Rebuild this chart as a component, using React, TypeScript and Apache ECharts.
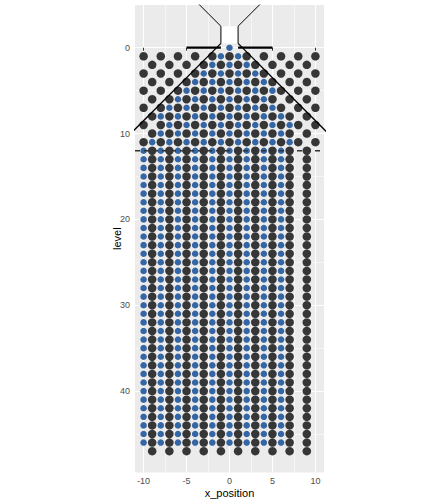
import React, { useEffect, useRef } from "react";
import * as echarts from "echarts";

// ---- axes ----
const xTicks = [-10, -5, 0, 5, 10];
const xMinorBreaks = [-7.5, -2.5, 2.5, 7.5];
const yTicks = [0, 10, 20, 30, 40];
const yMinorBreaks = [5, 15, 25, 35, 45];
const xLimits = [-11, 11];
const yLimits = [-4.975, 49.475];

// ---- pegs of the board (levels 1..11, staggered rows) ----
const boardLevels = [1, 2, 3, 4, 5, 6, 7, 8, 9, 10, 11];
const pegXOddLevels = [-10, -8, -6, -4, -2, 0, 2, 4, 6, 8, 10];
const pegXEvenLevels = [-9, -7, -5, -3, -1, 1, 3, 5, 7, 9];

// ---- bin walls (pegs stacked in columns) ----
const wallX = [-9, -7, -5, -3, -1, 1, 3, 5, 7, 9];
const wallLevels = [
  12, 13, 14, 15, 16, 17, 18, 19, 20, 21, 22, 23, 24, 25, 26, 27, 28, 29,
  30, 31, 32, 33, 34, 35, 36, 37, 38, 39, 40, 41, 42, 43, 44, 45, 46, 47,
];

// ---- balls: positions visited on the board (index = level 0..11) ----
const ballRows: number[][] = [
  [0],
  [-1, 1],
  [-2, 0, 2],
  [-3, -1, 1, 3],
  [-4, -2, 0, 2, 4],
  [-5, -3, -1, 1, 3, 5],
  [-6, -4, -2, 0, 2, 4],
  [-7, -5, -3, -1, 1, 3, 5],
  [-8, -6, -4, -2, 0, 2, 4, 6],
  [-7, -5, -3, -1, 1, 3, 5, 7],
  [-8, -6, -4, -2, 0, 2, 4, 6],
  [-9, -7, -5, -3, -1, 1, 3, 5, 7],
];
// ---- balls in the bins ----
const binX = [-10, -8, -6, -4, -2, 0, 2, 4, 6];
const binLevels = [
  12, 13, 14, 15, 16, 17, 18, 19, 20, 21, 22, 23, 24, 25, 26, 27, 28, 29,
  30, 31, 32, 33, 34, 35, 36, 37, 38, 39, 40, 41, 42, 43, 44, 45, 46,
];

// ---- board outline ----
const funnelLeft = [[-4, -5.5], [-1, -2.5], [-1, -0.5]];
const funnelRight = [[4, -5.5], [1, -2.5], [1, -0.5]];
const funnelMouth = [[-1, -2.5], [1, -0.5]];
const slopeLeft = [[-1, -0.5], [-12, 10.5]];
const slopeRight = [[1, -0.5], [12, 10.5]];
const ledgeLeft = [[-5, 0], [-1, 0]];
const ledgeRight = [[1, 0], [5, 0]];
const binTopLine = [[-11, 12], [11, 12]];

const pegs: number[][] = [];
boardLevels.forEach((lv) => {
  (lv % 2 === 1 ? pegXOddLevels : pegXEvenLevels).forEach((x) => pegs.push([x, lv]));
});
wallLevels.forEach((lv) => wallX.forEach((x) => pegs.push([x, lv])));

const balls: number[][] = [];
ballRows.forEach((row, lv) => row.forEach((x) => balls.push([x, lv])));
binLevels.forEach((lv) => binX.forEach((x) => balls.push([x, lv])));

const FONT = "'Liberation Sans', Arial, Helvetica, sans-serif";

function lineSeries(data: number[][], width: number, color = "#000", type: any = "solid") {
  return {
    type: "line",
    data,
    symbol: "none",
    showSymbol: false,
    silent: true,
    clip: true,
    lineStyle: { color, width, type },
    z: 5,
  };
}

const option: any = {
  animation: false,
  backgroundColor: "#ffffff",
  grid: {
    left: 135,
    right: 108,
    top: 5,
    bottom: 31.6,
    show: true,
    backgroundColor: "#EBEBEB",
    borderWidth: 0,
    containLabel: false,
    outerBoundsMode: "none",
  },
  xAxis: [
    {
      type: "value",
      min: xLimits[0],
      max: xLimits[1],
      position: "bottom",
      axisLine: { show: false },
      axisTick: {
        show: true,
        length: 3,
        customValues: xTicks,
        lineStyle: { color: "#333333", width: 1 },
      },
      axisLabel: {
        customValues: xTicks,
        color: "#4D4D4D",
        fontSize: 9,
        margin: 4,
        fontFamily: FONT,
      },
      splitLine: { show: true, lineStyle: { color: "#ffffff", width: 1.1 } },
      name: "x_position",
      nameLocation: "middle",
      nameGap: 15,
      nameMoveOverlap: false,
      nameTextStyle: { color: "#000000", fontSize: 11, fontFamily: FONT },
    },
    {
      type: "value",
      min: xLimits[0],
      max: xLimits[1],
      position: "top",
      axisLine: { show: false },
      axisTick: { show: false, customValues: xMinorBreaks },
      axisLabel: { show: false, customValues: xMinorBreaks },
      splitLine: { show: true, lineStyle: { color: "#ffffff", width: 0.55 } },
    },
  ],
  yAxis: [
    {
      type: "value",
      inverse: true,
      min: yLimits[0],
      max: yLimits[1],
      position: "left",
      axisLine: { show: false },
      axisTick: {
        show: true,
        length: 3,
        customValues: yTicks,
        lineStyle: { color: "#333333", width: 1 },
      },
      axisLabel: {
        customValues: yTicks,
        color: "#4D4D4D",
        fontSize: 9,
        margin: 5,
        fontFamily: FONT,
      },
      splitLine: { show: true, lineStyle: { color: "#ffffff", width: 1.1 } },
      name: "level",
      nameLocation: "middle",
      nameRotate: 90,
      nameGap: 13,
      nameMoveOverlap: false,
      nameTextStyle: { color: "#000000", fontSize: 11, fontFamily: FONT },
    },
    {
      type: "value",
      inverse: true,
      min: yLimits[0],
      max: yLimits[1],
      position: "right",
      axisLine: { show: false },
      axisTick: { show: false, customValues: yMinorBreaks },
      axisLabel: { show: false, customValues: yMinorBreaks },
      splitLine: { show: true, lineStyle: { color: "#ffffff", width: 0.55 } },
    },
  ],
  series: [
    {
      type: "scatter",
      name: "pegs",
      data: pegs,
      symbol: "circle",
      symbolSize: 8.5,
      silent: true,
      itemStyle: { color: "#363636", opacity: 1 },
      z: 3,
    },
    {
      type: "scatter",
      name: "balls",
      data: balls,
      symbol: "circle",
      symbolSize: 6.5,
      silent: true,
      itemStyle: { color: "#3465A4", opacity: 1 },
      z: 4,
    },
    {
      ...lineSeries(funnelLeft, 1),
      markArea: {
        silent: true,
        itemStyle: { color: "#ffffff" },
        data: [[{ coord: funnelMouth[0] }, { coord: funnelMouth[1] }]],
      },
    },
    lineSeries(funnelRight, 1),
    lineSeries(slopeLeft, 1.3),
    lineSeries(slopeRight, 1.3),
    lineSeries(ledgeLeft, 2.2),
    lineSeries(ledgeRight, 2.2),
    lineSeries(binTopLine, 1.4, "#333333", [5, 4]),
  ],
};

export default function App() {
  const ref = useRef<HTMLDivElement>(null);
  useEffect(() => {
    document.body.style.margin = "0";
    const chart = echarts.init(ref.current as HTMLDivElement, null, { renderer: "svg" });
    chart.setOption(option);
    return () => chart.dispose();
  }, []);
  return <div ref={ref} style={{ width: 432, height: 504 }} />;
}
